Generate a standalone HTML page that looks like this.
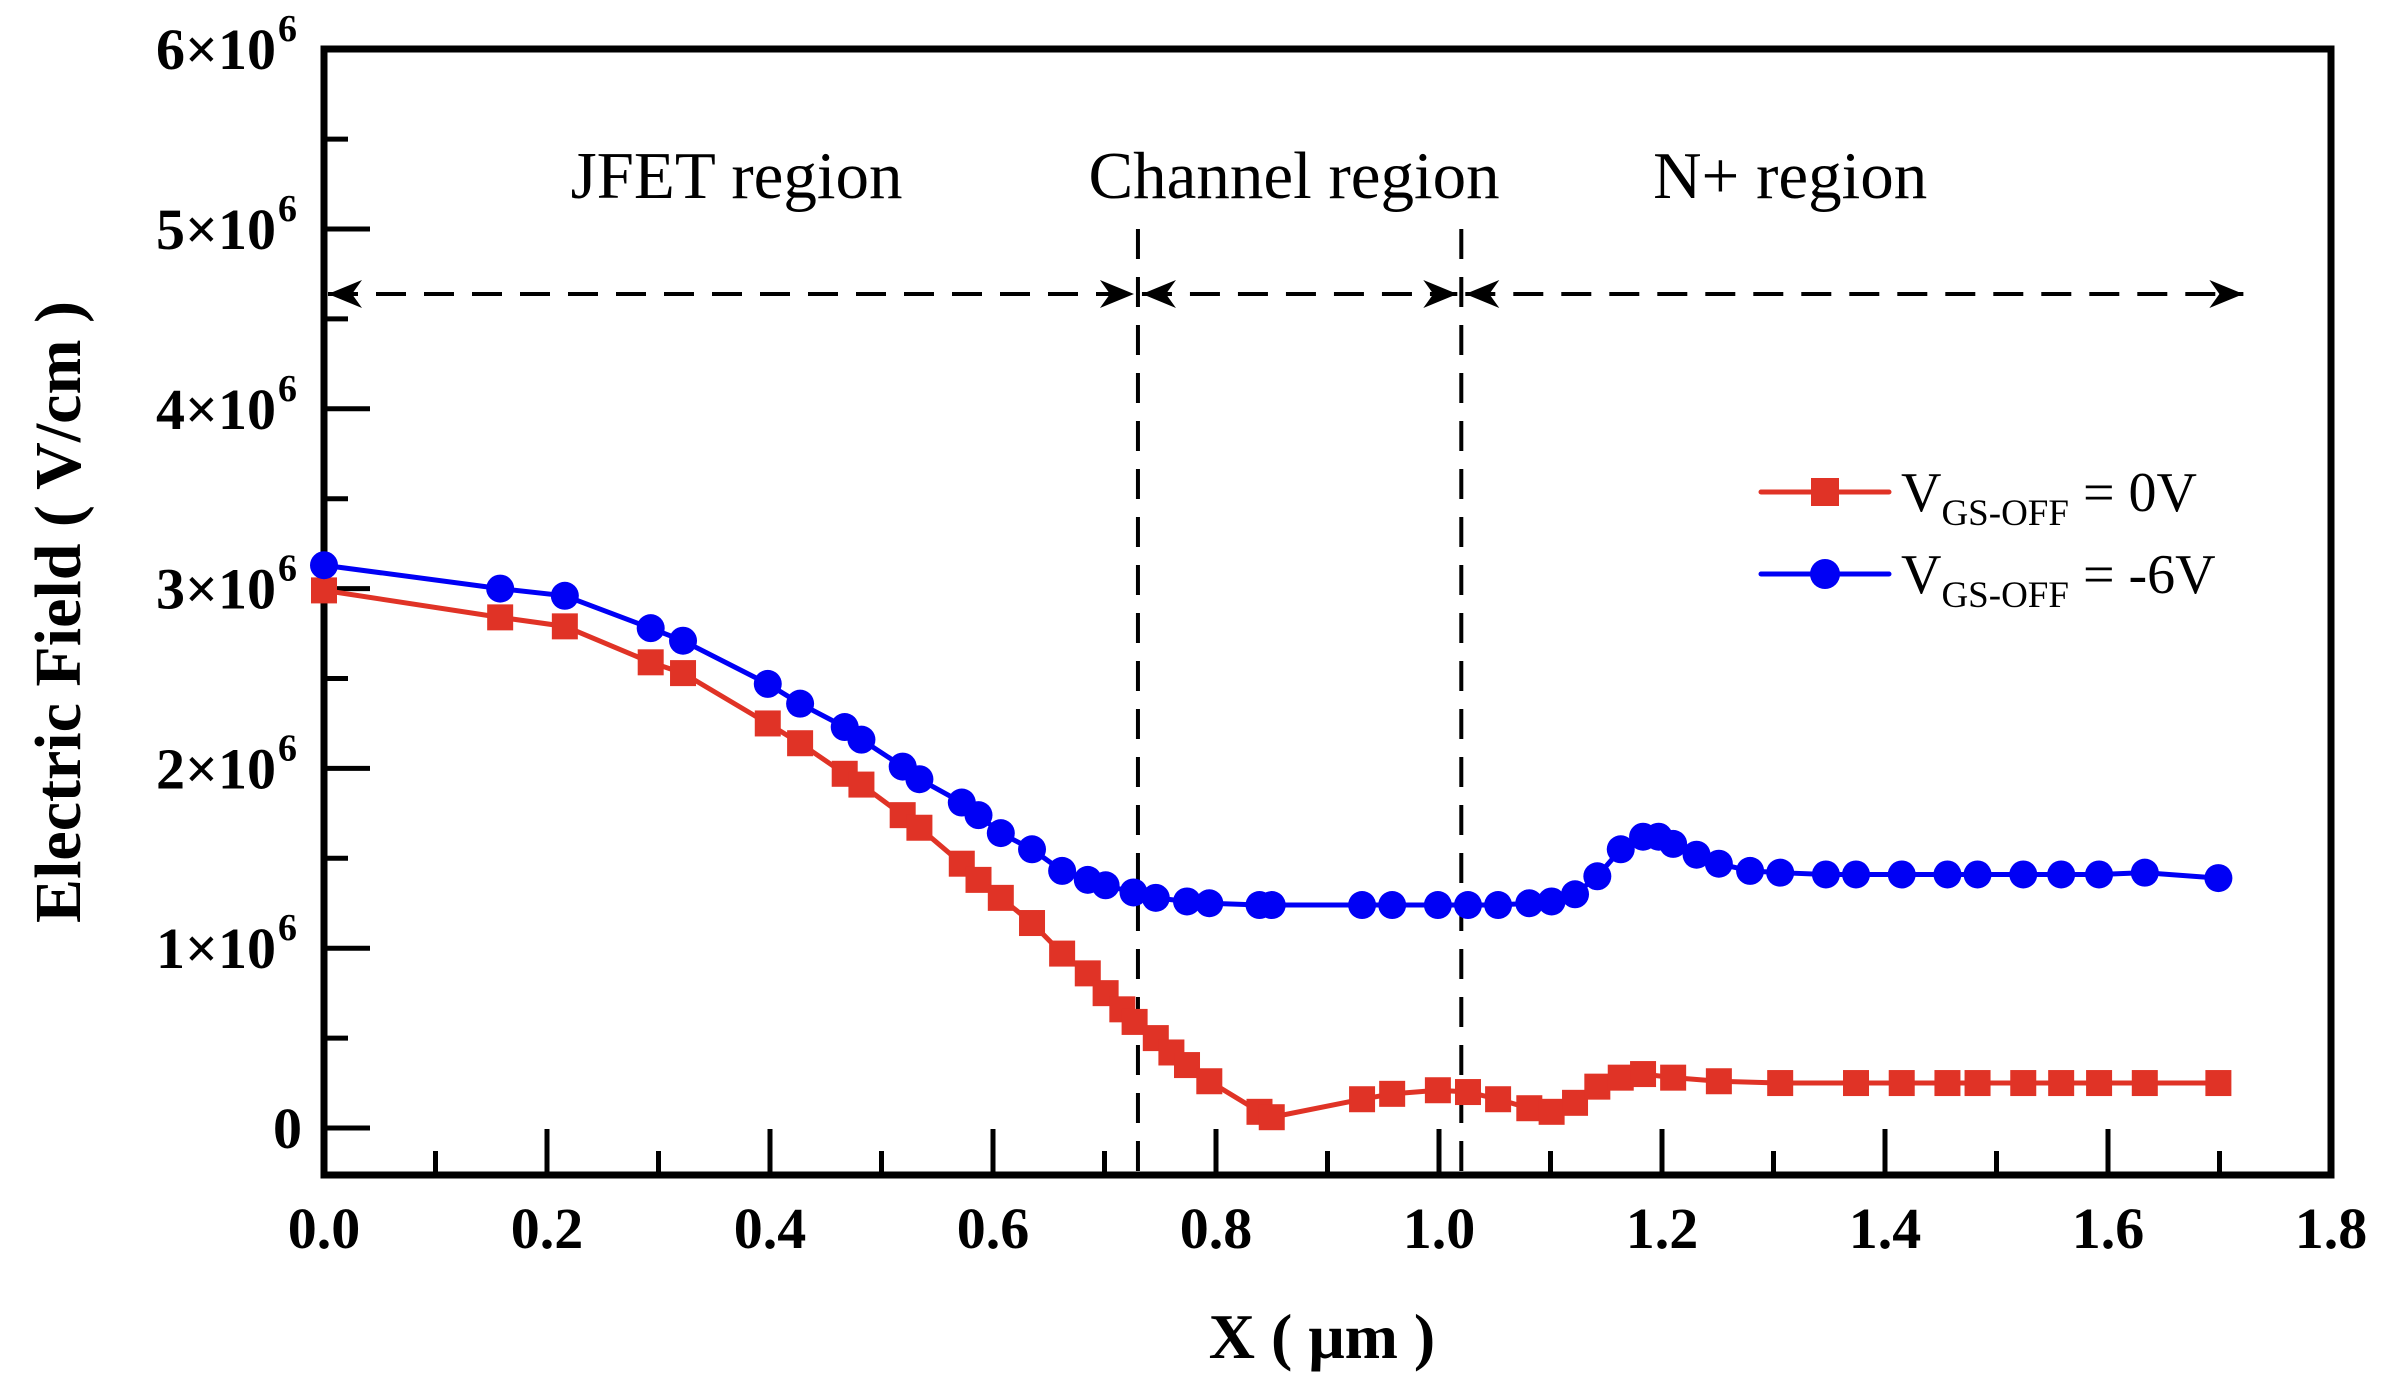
<!DOCTYPE html>
<html><head><meta charset="utf-8"><style>
html,body{margin:0;padding:0;background:#fff;}
svg{display:block;font-family:"Liberation Serif",serif;}
</style></head><body>
<svg id="chart" width="2386" height="1391" viewBox="0 0 2386 1391" xmlns="http://www.w3.org/2000/svg">
</svg>
<script>
const xTicks=[0,0.2,0.4,0.6,0.8,1.0,1.2,1.4,1.6,1.8];
const xTickLabels=["0.0","0.2","0.4","0.6","0.8","1.0","1.2","1.4","1.6","1.8"];
const yTicks=[0,1,2,3,4,5,6];
const yTickLabels=["0","1×10","2×10","3×10","4×10","5×10","6×10"];
const redX=[0,0.158,0.216,0.293,0.322,0.398,0.427,0.467,0.482,0.519,0.534,0.572,0.587,0.607,0.635,0.662,0.685,0.701,0.716,0.727,0.746,0.760,0.774,0.794,0.839,0.850,0.931,0.958,0.999,1.026,1.053,1.081,1.101,1.122,1.142,1.163,1.183,1.210,1.251,1.306,1.374,1.415,1.456,1.483,1.524,1.558,1.592,1.633,1.699];
const redY=[2.99,2.84,2.79,2.59,2.53,2.25,2.14,1.97,1.91,1.74,1.67,1.47,1.38,1.28,1.14,0.97,0.86,0.75,0.66,0.59,0.50,0.42,0.35,0.26,0.09,0.06,0.16,0.19,0.21,0.20,0.16,0.11,0.09,0.14,0.23,0.28,0.30,0.28,0.26,0.25,0.25,0.25,0.25,0.25,0.25,0.25,0.25,0.25,0.25];
const blueX=[0,0.158,0.216,0.293,0.322,0.398,0.427,0.467,0.482,0.519,0.534,0.572,0.587,0.607,0.635,0.662,0.685,0.701,0.726,0.746,0.774,0.794,0.839,0.850,0.931,0.958,0.999,1.026,1.053,1.081,1.101,1.122,1.142,1.163,1.183,1.197,1.210,1.231,1.251,1.279,1.306,1.347,1.374,1.415,1.456,1.483,1.524,1.558,1.592,1.633,1.699];
const blueY=[3.13,3.00,2.96,2.78,2.71,2.47,2.36,2.23,2.16,2.01,1.94,1.81,1.74,1.64,1.55,1.43,1.38,1.35,1.31,1.28,1.26,1.25,1.24,1.24,1.24,1.24,1.24,1.24,1.24,1.25,1.26,1.30,1.40,1.55,1.62,1.62,1.58,1.52,1.47,1.43,1.42,1.41,1.41,1.41,1.41,1.41,1.41,1.41,1.41,1.42,1.39];
const regionLabels=["JFET region","Channel region","N+ region"];
const regionCenters=[0.37,0.87,1.315];
const boundaries=[0.73,1.02];

const NS="http://www.w3.org/2000/svg";
const svg=document.getElementById('chart');
const L=324,R=2331,T=49,B=1175;
const X0=0,X1=1.8;
const Y0px=1128,perUnit=179.8;
function sx(v){return L+(v-X0)/(X1-X0)*(R-L);}
function sy(v){return Y0px-v*perUnit;}
function el(tag,attrs,parent){const e=document.createElementNS(NS,tag);for(const k in attrs)e.setAttribute(k,attrs[k]);(parent||svg).appendChild(e);return e;}

const frame=el('rect',{x:L,y:T,width:R-L,height:B-T,fill:'none',stroke:'#000','stroke-width':7});



for(let i=0;i<=18;i++){
  const v=i*0.1;const major=i%2===0;
  const t=el('line',{x1:sx(v),x2:sx(v),y1:B,y2:B-(major?46:24),stroke:'#000','stroke-width':5});
  
  
}
xTicks.forEach((v,i)=>{
  const t=el('text',{x:sx(v),y:1248,'text-anchor':'middle','font-size':58,'font-weight':'bold'});
  t.textContent=xTickLabels[i];
  
  
});
for(let i=0;i<=12;i++){
  const v=i*0.5;const major=i%2===0;
  const t=el('line',{x1:L,x2:L+(major?46:24),y1:sy(v),y2:sy(v),stroke:'#000','stroke-width':5});
  
  
}
yTicks.forEach((v,i)=>{
  const t=el('text',{x:v===0?302:276,y:sy(v)+20,'text-anchor':'end','font-size':58,'font-weight':'bold'});
  t.textContent=yTickLabels[i];
  
  
  if(v!==0){
    const s=el('text',{x:278,y:sy(v)-8,'font-size':38,'font-weight':'bold'});
    s.textContent='6';
    
    
  }
});
const xt=el('text',{x:1322,y:1358,'text-anchor':'middle','font-size':64,'font-weight':'bold'});
xt.textContent='X ( μm )';


const yt=el('text',{x:0,y:0,'text-anchor':'middle','font-size':66,'font-weight':'bold',transform:'translate(80,612) rotate(-90)'});
yt.textContent='Electric Field ( V/cm )';



boundaries.forEach(b=>{
  const d=el('line',{x1:sx(b),x2:sx(b),y1:sy(5),y2:B,stroke:'#000','stroke-width':4,'stroke-dasharray':'30 18'});
  
  
});
regionLabels.forEach((s,i)=>{
  const t=el('text',{x:sx(regionCenters[i]),y:198,'text-anchor':'middle','font-size':67});
  t.textContent=s;
  
  
});
const ay=294;
const edges=[0,boundaries[0],boundaries[1],1.725];
for(let i=0;i<3;i++){
  const a=sx(edges[i])+4,b=sx(edges[i+1])-4;
  const ln=el('line',{x1:a,x2:b,y1:ay,y2:ay,stroke:'#000','stroke-width':4,'stroke-dasharray':'30 18'});
  
  
  const h1=el('path',{d:`M${a} ${ay} L${a+34} ${ay-14} L${a+24} ${ay} L${a+34} ${ay+14} Z`,fill:'#000'});
  
  
  const h2=el('path',{d:`M${b} ${ay} L${b-34} ${ay-14} L${b-24} ${ay} L${b-34} ${ay+14} Z`,fill:'#000'});
  
  
}

function series(xs,ys,color,shape,name){
  const g=el('g',{});
  
  
  const pl=el('polyline',{points:xs.map((x,i)=>sx(x)+','+sy(ys[i])).join(' '),fill:'none',stroke:color,'stroke-width':5},g);
  
  
  xs.forEach((x,i)=>{
    let m;
    if(shape==='square') m=el('rect',{x:sx(x)-13,y:sy(ys[i])-13,width:26,height:26,fill:color},g);
    else m=el('circle',{cx:sx(x),cy:sy(ys[i]),r:14,fill:color},g);
    
    
  });
}
series(redX,redY,'#e03326','square','series-vgs-0v');
series(blueX,blueY,'#0000f5','circle','series-vgs-minus6v');

const leg=[['#e03326','square','0V',492],['#0000f5','circle','-6V',574]];
leg.forEach(([c,s,lab,y])=>{
  const g=el('g',{});
  
  
  el('line',{x1:1761,x2:1889,y1:y,y2:y,stroke:c,'stroke-width':5,'stroke-linecap':'round'},g);
  if(s==='square') el('rect',{x:1811,y:y-14,width:28,height:28,fill:c},g);
  else el('circle',{cx:1825,cy:y,r:15,fill:c},g);
  const t=el('text',{x:1901,y:y+19,'font-size':56},g);
  t.innerHTML='V<tspan font-size="37" dy="14">GS-OFF</tspan><tspan dy="-14"> = '+lab+'</tspan>';
});
</script>
</body></html>
